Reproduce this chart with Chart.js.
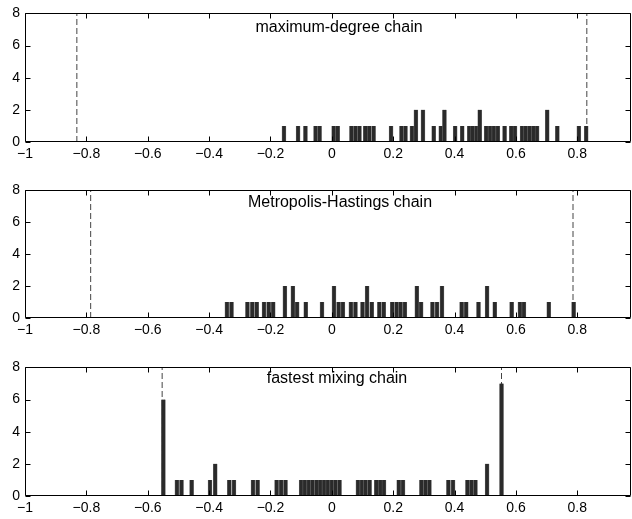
<!DOCTYPE html>
<html><head><meta charset="utf-8">
<script src="https://cdn.jsdelivr.net/npm/chart.js@4/dist/chart.umd.min.js"></script>
<style>
html,body{margin:0;padding:0;background:#fff;width:632px;height:519px;overflow:hidden;}
canvas{position:absolute;left:0;}
</style></head><body>
<canvas id="c1" width="632" height="170" style="top:0px"></canvas>
<canvas id="c2" width="632" height="169" style="top:177px"></canvas>
<canvas id="c3" width="632" height="165" style="top:354px"></canvas>
<script>
// ---- data ----
const xTickValues = [-1, -0.8, -0.6, -0.4, -0.2, 0, 0.2, 0.4, 0.6, 0.8];
const xTickLabels = ['\u22121', '\u22120.8', '\u22120.6', '\u22120.4', '\u22120.2', '0', '0.2', '0.4', '0.6', '0.8'];
const yTickValues = [0, 2, 4, 6, 8];
const yTickLabels = ['0', '2', '4', '6', '8'];

const titles = ['maximum-degree chain', 'Metropolis-Hastings chain', 'fastest mixing chain'];

// maximum-degree chain: eigenvalue bin centres and counts
const mdCenters = [-0.156, -0.110, -0.086, -0.053, -0.040, 0.006, 0.019, 0.064, 0.077, 0.090,
  0.109, 0.122, 0.136, 0.193, 0.227, 0.240, 0.261, 0.274, 0.297, 0.332,
  0.355, 0.367, 0.402, 0.425, 0.448, 0.459, 0.471, 0.482, 0.503, 0.516,
  0.528, 0.541, 0.563, 0.585, 0.597, 0.620, 0.632, 0.645, 0.657, 0.669,
  0.702, 0.735, 0.805, 0.829];
const mdCounts = [1, 1, 1, 1, 1, 1, 1, 1, 1, 1,
  1, 1, 1, 1, 1, 1, 1, 2, 2, 1,
  1, 2, 1, 1, 1, 1, 1, 2, 1, 1,
  1, 1, 1, 1, 1, 1, 1, 1, 1, 1,
  2, 1, 1, 1];
const mdSlem = [-0.831, 0.831];

// Metropolis-Hastings chain
const mhCenters = [-0.342, -0.327, -0.275, -0.259, -0.245, -0.221, -0.206, -0.191, -0.153, -0.127,
  -0.113, -0.085, -0.032, 0.007, 0.022, 0.036, 0.062, 0.077, 0.100, 0.115,
  0.130, 0.155, 0.169, 0.197, 0.211, 0.224, 0.238, 0.277, 0.291, 0.328,
  0.343, 0.359, 0.423, 0.438, 0.478, 0.506, 0.531, 0.586, 0.613, 0.626,
  0.707, 0.788];
const mhCounts = [1, 1, 1, 1, 1, 1, 1, 1, 2, 2,
  1, 1, 1, 2, 1, 1, 1, 1, 1, 2,
  1, 1, 1, 1, 1, 1, 1, 2, 1, 1,
  1, 2, 1, 1, 1, 2, 1, 1, 1, 1,
  1, 1];
const mhSlem = [-0.786, 0.786];

// fastest mixing chain
const fmCenters = [-0.549, -0.505, -0.490, -0.457, -0.397, -0.380, -0.334, -0.319, -0.257, -0.242,
  -0.180, -0.165, -0.151, -0.100, -0.088, -0.075, -0.063, -0.050, -0.038, -0.025,
  -0.013, 0.000, 0.012, 0.025, 0.085, 0.098, 0.110, 0.123, 0.145, 0.158,
  0.170, 0.218, 0.232, 0.292, 0.305, 0.318, 0.380, 0.395, 0.442, 0.455,
  0.468, 0.506, 0.553];
const fmCounts = [6, 1, 1, 1, 1, 2, 1, 1, 1, 1,
  1, 1, 1, 1, 1, 1, 1, 1, 1, 1,
  1, 1, 1, 1, 1, 1, 1, 1, 1, 1,
  1, 1, 1, 1, 1, 1, 1, 1, 1, 1,
  1, 2, 7];
const fmSlem = [-0.553, 0.553];

const X_MIN = -1, X_MAX = 0.975, Y_MIN = 0, Y_MAX = 8;

// ---- plugins ----
const boxTicks = {
  id: 'boxTicks',
  afterDatasetsDraw(chart) {
    const {ctx, chartArea: a, scales: {x, y}} = chart;
    ctx.save();
    ctx.strokeStyle = '#000';
    ctx.lineWidth = 1;
    const L = Math.round(a.left) + 0.5, R = Math.round(a.right) - 0.5;
    const T = Math.round(a.top) + 0.5, B = Math.round(a.bottom) - 0.5;
    ctx.beginPath();
    ctx.moveTo(L, T); ctx.lineTo(R, T); ctx.lineTo(R, B); ctx.lineTo(L, B); ctx.closePath();
    const tl = 5;
    x.ticks.forEach(t => {
      const px = Math.round(x.getPixelForValue(t.value)) + 0.5;
      ctx.moveTo(px, B); ctx.lineTo(px, B - tl);
      ctx.moveTo(px, T); ctx.lineTo(px, T + tl);
    });
    y.ticks.forEach(t => {
      const py = Math.round(y.getPixelForValue(t.value)) + 0.5;
      ctx.moveTo(L, py); ctx.lineTo(L + tl, py);
      ctx.moveTo(R, py); ctx.lineTo(R - tl, py);
    });
    ctx.stroke();
    ctx.restore();
  }
};
const panelTitle = {
  id: 'panelTitle',
  afterDraw(chart, args, opts) {
    const {ctx, chartArea: a} = chart;
    ctx.save();
    ctx.fillStyle = '#000';
    ctx.font = opts.size + 'px "Liberation Sans", Arial, sans-serif';
    ctx.textAlign = 'center';
    ctx.textBaseline = 'middle';
    ctx.fillText(opts.text, a.left + opts.dx, a.top + opts.dy);
    ctx.restore();
  }
};

function makeChart(id, title, centers, counts, slem, xAxisH, titleDx, titleDy) {
  const bars = centers.map((c, i) => ({x: c, y: counts[i]}));
  const dashed = v => ({
    type: 'line',
    data: [{x: v, y: Y_MIN}, {x: v, y: Y_MAX}],
    borderColor: '#444',
    borderWidth: 1,
    borderDash: [6, 3],
    pointRadius: 0,
    fill: false,
    order: 2
  });
  return new Chart(document.getElementById(id), {
    type: 'bar',
    data: {
      datasets: [
        {
          type: 'bar',
          data: bars,
          backgroundColor: '#2a2a2a',
          borderColor: '#6a6a6a',
          borderWidth: {left: 0.6, right: 0.6, top: 0, bottom: 0},
          barThickness: 4,
          order: 0
        },
        dashed(slem[0]),
        dashed(slem[1])
      ]
    },
    options: {
      responsive: false,
      animation: false,
      events: [],
      layout: {padding: {top: 10, right: 1, left: 0, bottom: 0}, autoPadding: false},
      plugins: {
        legend: {display: false},
        tooltip: {enabled: false},
        panelTitle: {text: title, dx: titleDx, dy: titleDy, size: 16}
      },
      scales: {
        x: {
          type: 'linear',
          min: X_MIN, max: X_MAX,
          offset: false,
          grid: {display: false, offset: false, drawTicks: false},
          border: {display: false},
          afterBuildTicks: s => { s.ticks = xTickValues.map(v => ({value: v})); },
          afterFit: s => { s.height = xAxisH; },
          ticks: {
            autoSkip: false, maxRotation: 0, padding: 4,
            color: '#000',
            font: {family: '"Liberation Sans", Arial, sans-serif', size: 14},
            callback: (v) => { const i = xTickValues.findIndex(t => Math.abs(t - v) < 1e-9); return i >= 0 ? xTickLabels[i] : ''; }
          }
        },
        y: {
          min: Y_MIN, max: Y_MAX,
          grid: {display: false, drawTicks: false},
          border: {display: false},
          afterBuildTicks: s => { s.ticks = yTickValues.map(v => ({value: v})); },
          afterFit: s => { s.width = 25; },
          ticks: {
            padding: 5,
            color: '#000',
            font: {family: '"Liberation Sans", Arial, sans-serif', size: 14},
            callback: (v) => { const i = yTickValues.indexOf(v); return i >= 0 ? yTickLabels[i] : ''; }
          }
        }
      }
    },
    plugins: [boxTicks, panelTitle]
  });
}

makeChart('c1', titles[0], mdCenters, mdCounts, mdSlem, 28, 314, 14);
makeChart('c2', titles[1], mhCenters, mhCounts, mhSlem, 28, 315, 12);
makeChart('c3', titles[2], fmCenters, fmCounts, fmSlem, 23, 312, 11);
</script>
</body></html>
